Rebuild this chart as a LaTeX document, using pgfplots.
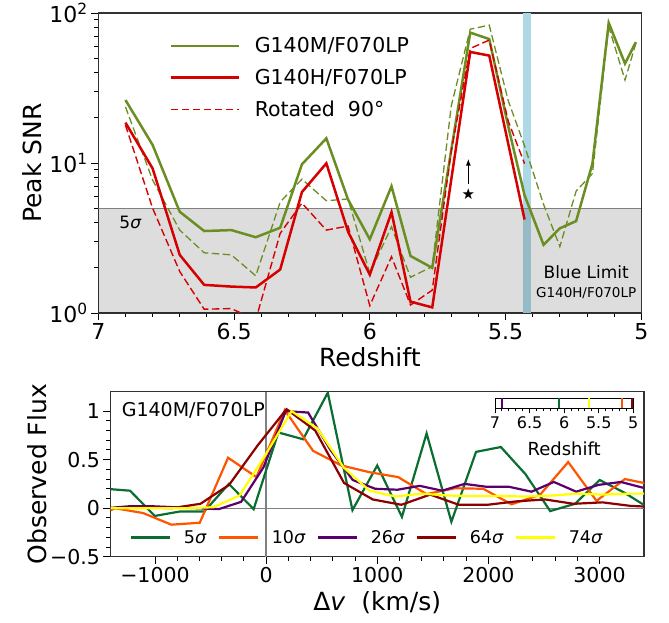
\documentclass[border=0pt]{standalone}
\usepackage{fontspec}
\setmainfont{DejaVu Sans}
\usepackage{pgfplots}
\pgfplotsset{compat=1.18}
\usetikzlibrary{arrows.meta}

\definecolor{cgreen}{RGB}{107,142,35}
\definecolor{cred}{RGB}{214,0,0}
\definecolor{lblue}{RGB}{173,216,230}
\definecolor{cfive}{RGB}{10,110,50}
\definecolor{cten}{RGB}{255,85,0}
\definecolor{ctwsix}{RGB}{90,0,110}
\definecolor{csixfour}{RGB}{140,0,0}
\definecolor{csevfour}{RGB}{255,255,0}

\pgfplotsset{
  myaxis/.style={
    scale only axis, anchor=south west,
    tick pos=left, tick align=outside,
    major tick length=7pt, minor tick length=4pt,
    every tick/.style={black, line width=0.9pt},
    axis line style={black!80, line width=1.2pt},
  }
}

\begin{document}
\begin{tikzpicture}

% ---------------- top panel ----------------
\begin{axis}[myaxis,
  at={(98.3pt,309pt)}, width=543pt, height=300pt,
  xmin=5, xmax=7, x dir=reverse,
  ymode=log, ymin=1, ymax=100,
  xtick={5,5.5,6,6.5,7}, xticklabels={5,5.5,6,6.5,7},
  minor x tick num=4,
  ytick={1,10,100}, yticklabels={10\textsuperscript{0},10\textsuperscript{1},10\textsuperscript{2}},
  minor ytick={2,3,4,5,6,7,8,9,20,30,40,50,60,70,80,90},
  tick label style={font=\fontsize{22}{22}\selectfont},
  xlabel={Redshift}, ylabel={Peak SNR},
  label style={font=\fontsize{25}{25}\selectfont},
  xlabel style={at={(axis description cs:0.5,-0.147)}, anchor=center},
  ylabel style={at={(axis description cs:-0.121,0.5)}, anchor=center},
  legend style={at={(axis description cs:0.125,0.932)}, anchor=north west,
    draw=none, fill=none, font=\fontsize{20.5}{24}\selectfont, row sep=11pt,
    cells={anchor=west}},
]
\addlegendimage{legend image code/.code={\draw[cgreen, line width=2.5pt] (0pt,0pt) -- (68pt,0pt); \path (82pt,0pt);}}
\addlegendentry{G140M/F070LP}
\addlegendimage{legend image code/.code={\draw[cred, line width=2.5pt] (0pt,0pt) -- (68pt,0pt); \path (82pt,0pt);}}
\addlegendentry{G140H/F070LP}
\addlegendimage{legend image code/.code={\draw[color=cred, line width=1.6pt]
  (0pt,0pt) -- (7.5pt,0pt) (11pt,0pt) -- (18.5pt,0pt) (22pt,0pt) -- (29.5pt,0pt)
  (33pt,0pt) -- (40.5pt,0pt) (44pt,0pt) -- (51.5pt,0pt) (55pt,0pt) -- (62.5pt,0pt)
  (66pt,0pt) -- (68pt,0pt); \path (82pt,0pt);}}
\addlegendentry{Rotated\ \ 90°}

\addplot[fill=lblue, draw=none, forget plot] coordinates {(5.405,1)(5.405,100)(5.435,100)(5.435,1)} -- cycle;
\addplot[fill=black, fill opacity=0.135, draw=none, forget plot] coordinates {(5,1)(7,1)(7,5)(5,5)} -- cycle;
\addplot[gray, line width=1.1pt, forget plot] coordinates {(5,5)(7,5)};

\addplot[cgreen, line width=1.3pt, dash pattern=on 7.5pt off 3.5pt, forget plot] coordinates {
(6.90,23.7)(6.80,7.7)(6.70,3.57)(6.61,2.52)(6.51,2.44)(6.42,1.77)(6.33,5.5)(6.25,7.8)(6.16,5.6)(6.08,5.76)(6.00,1.84)(5.92,3.76)(5.85,1.73)(5.77,2.04)(5.70,24)(5.63,78)(5.56,83)(5.49,26)(5.43,13)(5.36,5.3)(5.30,2.77)(5.24,6.5)(5.18,8.5)(5.12,81)(5.06,35.7)(5.02,62.8)};

\addplot[cgreen, line width=2.5pt, forget plot] coordinates {
(6.90,26.3)(6.80,13.2)(6.70,4.73)(6.61,3.52)(6.51,3.57)(6.42,3.2)(6.33,3.7)(6.25,9.8)(6.16,14.6)(6.08,5.7)(6.00,3.1)(5.92,7.0)(5.85,2.4)(5.77,2.0)(5.63,74)(5.56,67)(5.49,17.5)(5.43,6.1)(5.36,2.85)(5.30,3.67)(5.24,4.1)(5.18,9.9)(5.12,86)(5.06,46)(5.02,64)};

\addplot[cred, line width=2.5pt, forget plot] coordinates {
(6.90,18.6)(6.80,9.2)(6.70,2.44)(6.61,1.54)(6.51,1.5)(6.42,1.48)(6.33,1.95)(6.25,6.4)(6.16,9.95)(6.08,3.48)(6.00,1.8)(5.92,4.7)(5.85,1.19)(5.77,1.09)(5.63,55)(5.56,52)(5.43,4.2)};

\addplot[cred, line width=1.4pt, dash pattern=on 7.5pt off 3.5pt, forget plot] coordinates {
(6.90,17.9)(6.80,5.0)(6.70,1.89)(6.61,1.06)(6.51,1.07)(6.42,0.9)(6.33,3.4)(6.25,5.4)(6.16,3.57)(6.08,3.8)(6.00,1.12)(5.92,2.37)(5.85,1.13)(5.77,1.42)(5.70,12)(5.63,58)(5.56,66)(5.49,19)(5.43,9.9)};

\addplot[black, line width=1.3pt, -{Latex[length=7pt,width=5pt]}, forget plot] coordinates {(5.637,7.3)(5.637,10.7)};
\addplot[only marks, mark=text, text mark={\fontsize{15}{15}\selectfont ★}, forget plot] coordinates {(5.637,6.2)};

\node[font=\fontsize{17}{17}\selectfont, anchor=west] at (axis cs:6.935,4.0) {5\textit{σ}};
\node[font=\fontsize{17}{17}\selectfont] at (axis cs:5.203,1.88) {Blue Limit};
\node[font=\fontsize{13.5}{13.5}\selectfont] at (axis cs:5.203,1.36) {G140H/F070LP};
\end{axis}

% ---------------- bottom panel ----------------
\begin{axis}[myaxis,
  at={(110.5pt,65.3pt)}, width=533.5pt, height=165pt,
  xmin=-1400, xmax=3400, ymin=-0.5, ymax=1.2,
  xtick={-1000,0,1000,2000,3000}, xticklabels={−1000,0,1000,2000,3000},
  ytick={-0.5,0,0.5,1}, yticklabels={−0.5,0,0.5,1},
  minor x tick num=4, minor y tick num=4,
  tick label style={font=\fontsize{20.5}{20.5}\selectfont},
  xlabel={Δ\textit{v}\ \ (km/s)}, ylabel={Observed Flux},
  label style={font=\fontsize{25}{25}\selectfont},
  xlabel style={at={(axis description cs:0.5,-0.28)}, anchor=center},
  ylabel style={at={(axis description cs:-0.137,0.5)}, anchor=center},
  legend columns=5,
  legend style={at={(axis description cs:0.03,0.116)}, anchor=west,
    draw=none, fill=none, font=\fontsize{17.5}{20}\selectfont,
    /tikz/every even column/.append style={column sep=9pt}},
  legend image code/.code={\draw[#1] (0pt,0pt) -- (39pt,0pt); \path (50pt,0pt);},
]
\addplot[gray, line width=1.3pt, forget plot] coordinates {(-1400,0)(3400,0)};
\addplot[gray, line width=1.3pt, forget plot] coordinates {(0,-0.5)(0,1.2)};

\addplot[cfive, line width=2.2pt] coordinates {
(-1446,0.2)(-1224,0.18)(-1002,-0.08)(-779,-0.035)(-557,-0.035)(-335,0.25)(-112,-0.01)(110,0.78)(333,0.71)(555,1.19)(777,-0.02)(1000,0.44)(1222,-0.09)(1444,0.77)(1667,-0.14)(1889,0.58)(2112,0.63)(2334,0.35)(2556,-0.03)(2779,0.045)(3001,0.29)(3223,0.16)(3446,0.0)};
\addlegendentry{5\textit{σ}}

\addplot[cten, line width=2.2pt] coordinates {
(-1617,-0.15)(-1362,0.0)(-1107,-0.05)(-852,-0.17)(-597,-0.15)(-342,0.52)(-87,0.32)(168,1.01)(423,0.59)(678,0.44)(933,0.37)(1188,0.32)(1443,0.145)(1698,0.205)(1953,0.2)(2208,0.04)(2463,0.136)(2718,0.475)(2973,0.075)(3228,0.30)(3483,0.24)};
\addlegendentry{10\textit{σ}}

\addplot[ctwsix, line width=2.2pt] coordinates {
(-1431,0)(-1230,0.02)(-1029,0.02)(-828,0.01)(-627,0.0)(-426,-0.01)(-225,0.065)(-24,0.42)(177,1.0)(378,0.985)(579,0.6)(780,0.29)(981,0.2)(1182,0.19)(1383,0.23)(1584,0.18)(1785,0.25)(1986,0.22)(2187,0.22)(2388,0.17)(2589,0.27)(2790,0.17)(2991,0.24)(3192,0.27)(3393,0.21)};
\addlegendentry{26\textit{σ}}

\addplot[csixfour, line width=2.2pt] coordinates {
(-1624,0)(-1366,0)(-1107,0.01)(-849,0.0)(-591,0.045)(-333,0.24)(-74,0.65)(184,1.02)(442,0.8)(701,0.26)(959,0.09)(1217,0.035)(1476,0.14)(1734,0.035)(1992,0.035)(2251,0.07)(2509,0.09)(2767,0.045)(3026,0.06)(3284,0.023)(3542,0.01)};
\addlegendentry{64\textit{σ}}

\addplot[csevfour, line width=2.2pt] coordinates {
(-1409,0)(-1175,0)(-941,0)(-707,0)(-473,0.01)(-239,0.13)(-5,0.55)(229,1.0)(463,0.82)(697,0.42)(931,0.18)(1165,0.12)(1399,0.15)(1633,0.13)(1867,0.125)(2101,0.125)(2335,0.12)(2569,0.13)(2803,0.15)(3037,0.14)(3271,0.15)(3505,0.15)};
\addlegendentry{74\textit{σ}}

\node[font=\fontsize{19}{19}\selectfont, anchor=west] at (axis cs:-1330,1.005) {G140M/F070LP};
\end{axis}

% ---------------- inset redshift bar ----------------
\begin{axis}[myaxis,
  at={(495pt,213.7pt)}, width=138.3pt, height=10pt,
  xmin=5, xmax=7, x dir=reverse, ymin=0, ymax=1,
  ytick=\empty, xtick={5,5.5,6,6.5,7}, xticklabels={5,5.5,6,6.5,7},
  minor x tick num=4,
  major tick length=5pt, minor tick length=3pt,
  axis line style={black, line width=1pt},
  axis background/.style={fill=white},
  tick label style={font=\fontsize{16}{16}\selectfont},
  xlabel={Redshift},
  xlabel style={font=\fontsize{18}{18}\selectfont, at={(axis description cs:0.5,-4.0)}, anchor=center},
]
\addplot[ctwsix, line width=2pt] coordinates {(6.90,0)(6.90,1)};
\addplot[cfive, line width=2pt] coordinates {(6.075,0)(6.075,1)};
\addplot[csevfour, line width=2pt] coordinates {(5.637,0)(5.637,1)};
\addplot[cten, line width=2pt] coordinates {(5.17,0)(5.17,1)};
\addplot[csixfour, line width=2pt] coordinates {(5.025,0)(5.025,1)};
\end{axis}

\pgfresetboundingbox
\path[use as bounding box] (0pt,0pt) rectangle (669pt,622pt);
\end{tikzpicture}
\end{document}
